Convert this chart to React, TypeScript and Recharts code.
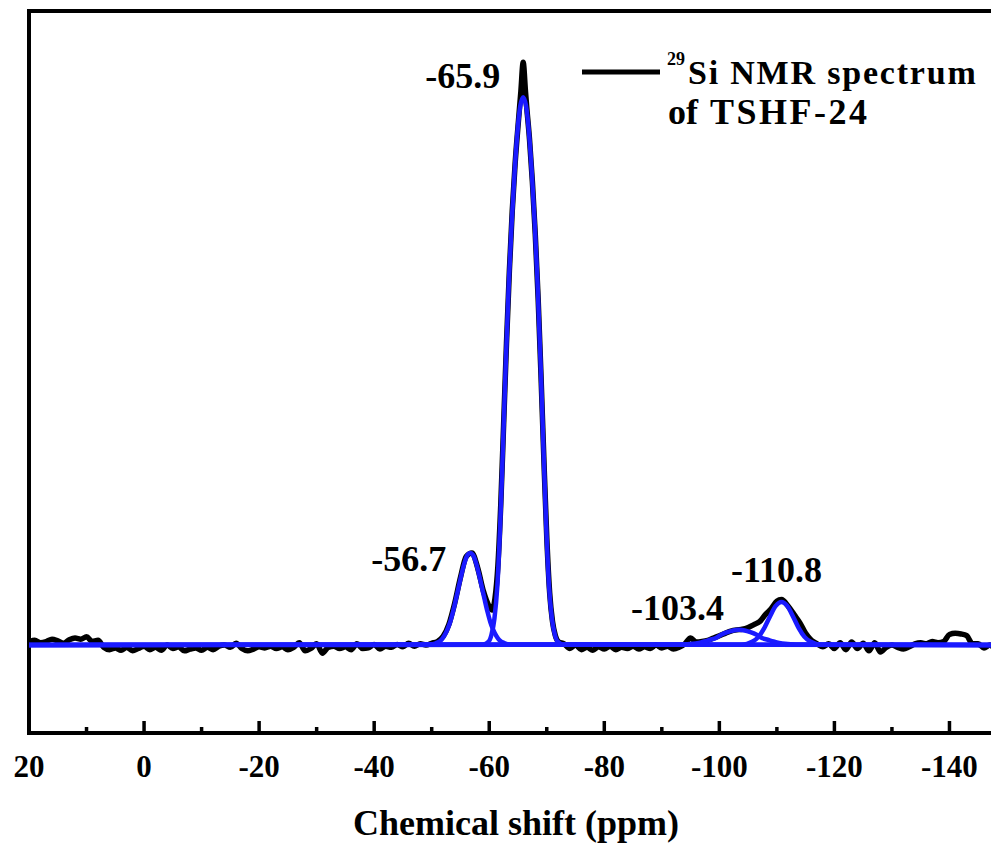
import { LineChart, Line, XAxis, YAxis, ReferenceDot, ReferenceLine } from "recharts";

// measured 29Si spectrum, [shift ppm, intensity] (black)
const SPECTRUM: [number, number][] = [
  [20, 0.005], [19, 0.008], [18, 0.004], [17, 0.006], [16, 0.01], [15, 0.007], [14, 0.003],
  [13, 0.009], [12, 0.012], [11, 0.01], [10, 0.014], [9, 0.006], [8, 0.008], [7, -0.004],
  [6, -0.008], [5, -0.005], [4, -0.009], [3, -0.004], [2, -0.01], [1, -0.006], [0, -0.002],
  [-1, -0.008], [-2, -0.004], [-3, -0.009], [-4, 0.0], [-5, -0.006], [-6, -0.003], [-7, -0.01],
  [-8, -0.007], [-9, -0.005], [-10, -0.009], [-11, -0.004], [-12, -0.008], [-13, -0.002],
  [-14, 0.0], [-15, -0.004], [-16, 0.003], [-17, -0.006], [-18, -0.01], [-19, -0.007],
  [-20, -0.003], [-21, -0.005], [-22, -0.002], [-23, -0.006], [-24, -0.003], [-25, -0.008],
  [-26, -0.004], [-27, 0.004], [-28, -0.01], [-29, -0.006], [-30, 0.002], [-31, -0.014],
  [-32, -0.004], [-33, -0.002], [-34, -0.006], [-35, -0.003], [-36, -0.008], [-37, 0.002],
  [-38, -0.006], [-39, -0.005], [-40, 0.001], [-41, -0.007], [-42, -0.002], [-43, -0.004],
  [-44, 0.001], [-45, -0.003], [-46, 0.003], [-47, -0.002], [-48, 0.002], [-49, 0.0],
  [-50, 0.003], [-51, 0.006], [-52, 0.015], [-53, 0.036], [-54, 0.072], [-55, 0.116],
  [-56, 0.152], [-57, 0.158], [-58, 0.132], [-59, 0.092], [-60, 0.066], [-60.5, 0.06],
  [-61, 0.08], [-61.5, 0.135], [-62, 0.24], [-62.5, 0.378], [-63, 0.518], [-63.5, 0.642],
  [-64, 0.745], [-64.5, 0.826], [-65, 0.89], [-65.5, 0.95], [-65.9, 1.0], [-66.3, 0.95],
  [-66.5, 0.925], [-67, 0.868], [-67.5, 0.795], [-68, 0.705], [-68.5, 0.595], [-69, 0.462],
  [-69.5, 0.318], [-70, 0.185], [-70.5, 0.09], [-71, 0.04], [-71.5, 0.016], [-72, 0.006],
  [-73, 0.002], [-74, -0.006], [-75, 0.0], [-76, -0.008], [-77, -0.004], [-78, -0.009],
  [-79, -0.003], [-80, -0.007], [-81, -0.002], [-82, -0.008], [-83, -0.004], [-84, -0.006],
  [-85, -0.002], [-86, -0.007], [-87, -0.003], [-88, -0.006], [-89, 0.0], [-90, -0.005],
  [-91, -0.002], [-92, -0.007], [-93, -0.004], [-94, 0.002], [-95, 0.012], [-96, 0.005],
  [-97, 0.006], [-98, 0.008], [-99, 0.012], [-100, 0.016], [-101, 0.02], [-102, 0.024],
  [-103, 0.026], [-104, 0.027], [-105, 0.03], [-106, 0.035], [-107, 0.04], [-108, 0.052],
  [-109, 0.062], [-110, 0.075], [-110.8, 0.078], [-112, 0.066], [-113, 0.052], [-114, 0.038],
  [-115, 0.02], [-116, 0.008], [-117, 0.002], [-118, -0.003], [-119, 0.002], [-120, -0.006],
  [-121, 0.004], [-122, -0.008], [-123, 0.005], [-124, -0.006], [-125, 0.003], [-126, -0.01],
  [-127, 0.004], [-128, -0.012], [-129, -0.004], [-130, 0.0], [-131, -0.004], [-132, -0.007],
  [-133, -0.003], [-134, 0.002], [-135, 0.004], [-136, 0.002], [-137, 0.006], [-138, 0.004],
  [-139, 0.006], [-140, 0.018], [-141, 0.02], [-142, 0.019], [-143, 0.016], [-144, 0.002],
  [-145, 0.002], [-146, -0.005], [-147, 0.0], [-148, -0.006], [-149, -0.002], [-150, 0.0],
];

// fitted components (blue)
const FIT_Q2: [number, number][] = [
  [20, 0], [-49.7, 0.001], [-50.7, 0.003], [-51.7, 0.009], [-52.2, 0.016], [-52.7, 0.026],
  [-53.2, 0.039], [-53.7, 0.057], [-54.2, 0.078], [-54.7, 0.1], [-55.2, 0.122], [-55.7, 0.141],
  [-56.2, 0.154], [-56.7, 0.158], [-57.2, 0.154], [-57.7, 0.141], [-58.2, 0.122], [-58.7, 0.1],
  [-59.2, 0.078], [-59.7, 0.057], [-60.2, 0.039], [-60.7, 0.026], [-61.2, 0.016], [-61.7, 0.009],
  [-62.7, 0.003], [-63.7, 0.001], [-150, 0],
];

const FIT_Q3: [number, number][] = [
  [20, 0], [-58.9, 0.001], [-59.9, 0.006], [-60.4, 0.018], [-60.9, 0.045], [-61.4, 0.1],
  [-61.9, 0.205], [-62.4, 0.345], [-62.9, 0.49], [-63.4, 0.62], [-63.9, 0.725], [-64.4, 0.81],
  [-64.9, 0.88], [-65.4, 0.925], [-65.9, 0.94], [-66.4, 0.925], [-66.9, 0.88], [-67.4, 0.81],
  [-67.9, 0.725], [-68.4, 0.62], [-68.9, 0.49], [-69.4, 0.345], [-69.9, 0.205], [-70.4, 0.1],
  [-70.9, 0.045], [-71.4, 0.018], [-71.9, 0.006], [-72.9, 0.001], [-150, 0],
];

const FIT_T3: [number, number][] = [
  [20, 0], [-93.4, 0.001], [-95.4, 0.002], [-96.4, 0.0035], [-97.4, 0.006], [-98.4, 0.009],
  [-99.4, 0.012], [-100.4, 0.018], [-101.4, 0.022], [-102.4, 0.025], [-103.4, 0.026],
  [-104.4, 0.025], [-105.4, 0.022], [-106.4, 0.018], [-107.4, 0.012], [-108.4, 0.009],
  [-109.4, 0.006], [-110.4, 0.0035], [-111.4, 0.002], [-113.4, 0.001], [-150, 0],
];

const FIT_Q4: [number, number][] = [
  [20, 0], [-103.8, 0.0005], [-104.8, 0.002], [-105.8, 0.006], [-106.8, 0.014], [-107.8, 0.029],
  [-108.8, 0.049], [-109.8, 0.067], [-110.8, 0.074], [-111.8, 0.067], [-112.8, 0.049],
  [-113.8, 0.029], [-114.8, 0.014], [-115.8, 0.006], [-116.8, 0.002], [-117.8, 0.0005], [-150, 0],
];

const FITS = [FIT_Q2, FIT_Q3, FIT_T3, FIT_Q4];

const PEAK_SHIFTS = [-65.9, -56.7, -103.4, -110.8];
const PEAK_TOPS = [1.0, 0.158, 0.026, 0.074];
const PEAK_LABELS = ["-65.9", "-56.7", "-103.4", "-110.8"];

const X_TICKS = [20, 10, 0, -10, -20, -30, -40, -50, -60, -70, -80, -90, -100, -110, -120, -130, -140];
const X_DOMAIN: [number, number] = [-150, 20];
const Y_DOMAIN: [number, number] = [-0.151, 1.088];

const SERIF = '"Liberation Serif", "Times New Roman", serif';
const BLUE = "#1a1aff";

// label placement relative to each peak top: dx, dy, anchor
const LABEL_POS: [number, number, "start" | "middle" | "end"][] = [
  [-23, 26, "end"],
  [-24, 18, "end"],
  [-15, -10, "end"],
  [-5, -20, "middle"],
];

const toRows = (pts: [number, number][]) => pts.map(([x, v]) => ({ x, v }));

function ShiftTick({ x, y, payload }: any) {
  const major = payload.value % 20 === 0;
  return (
    <g>
      <line x1={x} x2={x} y1={y} y2={y - (major ? 12 : 6)} stroke="#000" strokeWidth={3.5} />
      {major && (
        <text x={x} y={y + 44} textAnchor="middle" fontFamily={SERIF} fontWeight="bold" fontSize={31} fill="#000">
          {payload.value}
        </text>
      )}
    </g>
  );
}

export default function App() {
  return (
    <div style={{ position: "relative", width: 991, height: 840, overflow: "hidden", background: "#fff" }}>
      <LineChart width={1010} height={840} margin={{ top: 3, right: 11, bottom: 0, left: 21 }}>
        <XAxis
          xAxisId="b"
          dataKey="x"
          type="number"
          domain={X_DOMAIN}
          reversed
          allowDataOverflow
          ticks={X_TICKS}
          tick={<ShiftTick />}
          tickLine={false}
          tickSize={0}
          tickMargin={0}
          height={115}
          axisLine={{ stroke: "#000", strokeWidth: 4 }}
          interval={0}
        />
        <YAxis type="number" domain={Y_DOMAIN} allowDataOverflow hide />
        <ReferenceLine xAxisId="b" x={X_DOMAIN[1]} stroke="#000" strokeWidth={4} strokeLinecap="square" />
        <ReferenceLine xAxisId="b" y={Y_DOMAIN[1]} stroke="#000" strokeWidth={4} strokeLinecap="square" />
        <Line
          xAxisId="b"
          data={toRows(SPECTRUM)}
          dataKey="v"
          type="monotone"
          stroke="#000"
          strokeWidth={5.5}
          dot={false}
          isAnimationActive={false}
        />
        {FITS.map((f, i) => (
          <Line
            key={i}
            xAxisId="b"
            data={toRows(f)}
            dataKey="v"
            type="monotone"
            stroke={BLUE}
            strokeWidth={4.5}
            dot={false}
            isAnimationActive={false}
          />
        ))}
        {PEAK_SHIFTS.map((s, i) => (
          <ReferenceDot
            key={s}
            xAxisId="b"
            x={s}
            y={PEAK_TOPS[i]}
            r={0}
            shape={(p: any) => (
              <text
                x={p.cx + LABEL_POS[i][0]}
                y={p.cy + LABEL_POS[i][1]}
                textAnchor={LABEL_POS[i][2]}
                fontFamily={SERIF}
                fontWeight="bold"
                fontSize={36}
                fill="#000"
              >
                {PEAK_LABELS[i]}
              </text>
            )}
          />
        ))}
      </LineChart>
      <svg width={991} height={840} style={{ position: "absolute", left: 0, top: 0, pointerEvents: "none" }}>
        <line x1={574} x2={652} y1={64} y2={64} stroke="#000" strokeWidth={5} />
        <text fontFamily={SERIF} fontWeight="bold" fill="#000">
          <tspan x={659} y={57} fontSize={18}>29</tspan>
          <tspan x={680} y={76} fontSize={34} letterSpacing={1.8}>Si NMR spectrum</tspan>
        </text>
        <text fontFamily={SERIF} fontWeight="bold" fill="#000" fontSize={36}>
          <tspan x={660} y={116}>of</tspan>
          <tspan x={702} y={116} letterSpacing={2.5}>TSHF-24</tspan>
        </text>
        <text x={508} y={827} textAnchor="middle" fontFamily={SERIF} fontWeight="bold" fontSize={36} fill="#000">
          Chemical shift (ppm)
        </text>
      </svg>
    </div>
  );
}
